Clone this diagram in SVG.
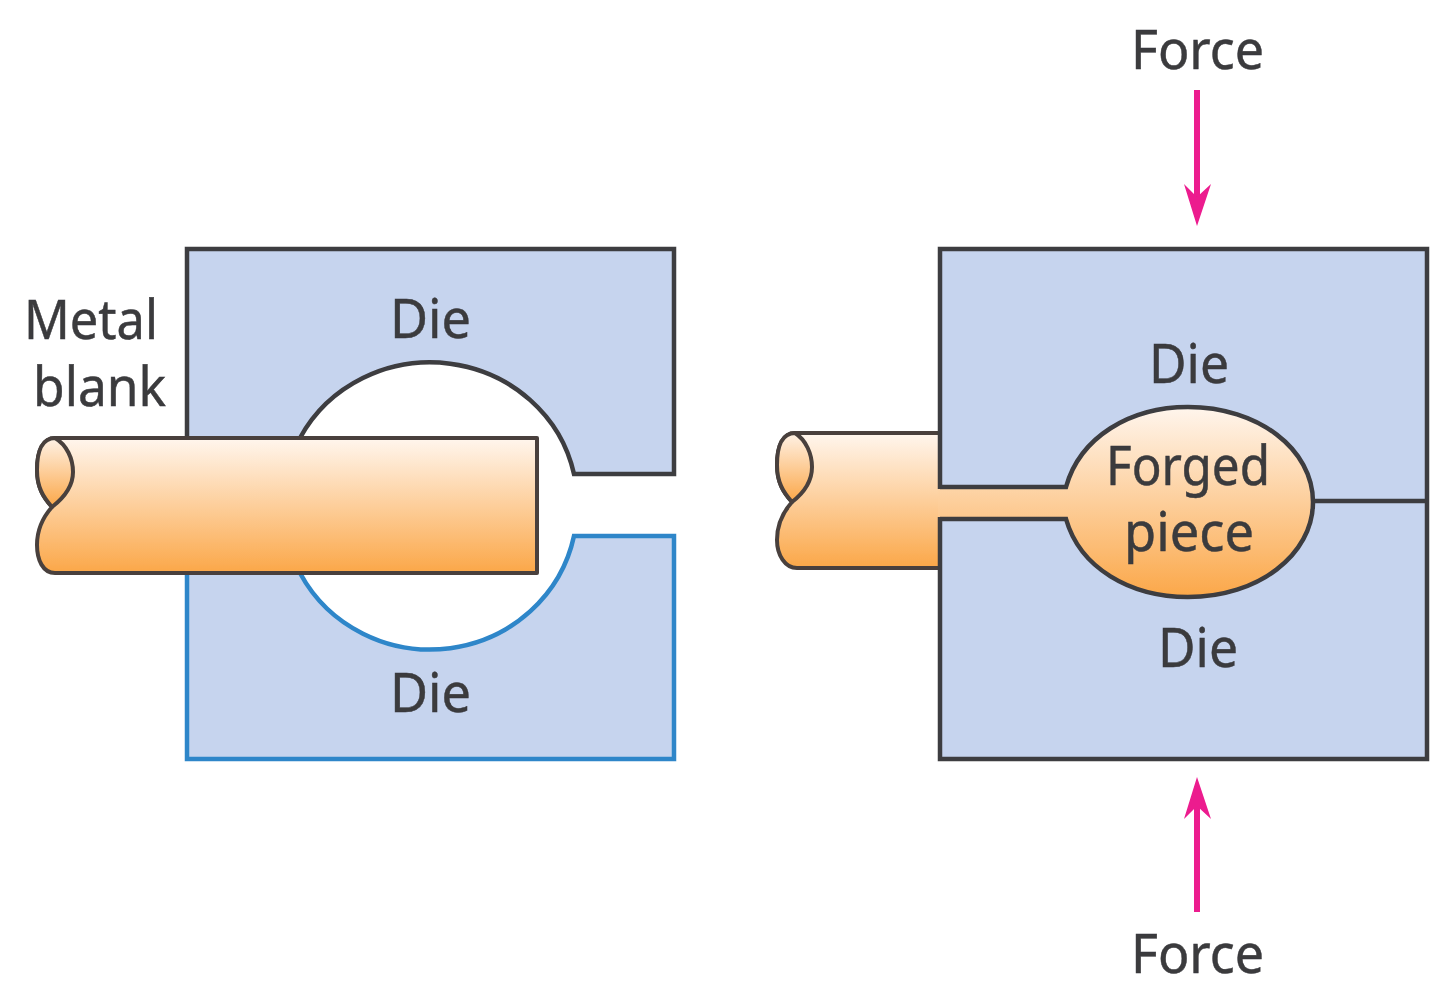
<svg xmlns="http://www.w3.org/2000/svg" width="1440" height="987" viewBox="0 0 1440 987">
<style>
g{filter:url(#soft)}
text{font-family:"Noto Sans","Open Sans",sans-serif;font-size:55px;fill:#3a3a3d;stroke:#3a3a3d;stroke-width:.5;lengthAdjust:spacingAndGlyphs}
.die{fill:#c6d4ee;stroke:none}
.dk{fill:none;stroke:#3c3c40;stroke-width:4.5;stroke-linejoin:miter}
.bl{fill:none;stroke:#2d86c9;stroke-width:4.5;stroke-linejoin:miter}
.met{stroke:#48413d;stroke-width:4;stroke-linejoin:round}
.arr{fill:none;stroke:#ec1a8e;stroke-width:6}
.head{fill:#ec1a8e;stroke:none}
</style>
<defs>
<filter id="soft" x="-5%" y="-5%" width="110%" height="110%"><feGaussianBlur stdDeviation="0.7"/></filter>
<linearGradient id="g1" gradientUnits="userSpaceOnUse" x1="0" y1="438" x2="0" y2="573"><stop offset="0" stop-color="#fff6ee"/><stop offset="1" stop-color="#fba748"/></linearGradient>
<linearGradient id="g1l" gradientUnits="userSpaceOnUse" x1="0" y1="438" x2="0" y2="507"><stop offset="0" stop-color="#fff2e6"/><stop offset="1" stop-color="#fba748"/></linearGradient>
<linearGradient id="g2" gradientUnits="userSpaceOnUse" x1="0" y1="433" x2="0" y2="568"><stop offset="0" stop-color="#fff6ee"/><stop offset="1" stop-color="#fba748"/></linearGradient>
<linearGradient id="g2l" gradientUnits="userSpaceOnUse" x1="0" y1="433" x2="0" y2="502"><stop offset="0" stop-color="#fff2e6"/><stop offset="1" stop-color="#fba748"/></linearGradient>
<linearGradient id="g3" gradientUnits="userSpaceOnUse" x1="0" y1="406" x2="0" y2="598"><stop offset="0" stop-color="#fff6ee"/><stop offset="1" stop-color="#fba748"/></linearGradient>
</defs>

<g id="left-upper-die">
<path class="die" d="M187,440 V249 H674 V474 H574 A147,141 0 0 0 299,440 Z"/>
<path class="dk" d="M187,438 V249 H674 V474 H574 A147,141 0 0 0 300,438"/>
<text x="390" y="338" textLength="81" lengthAdjust="spacingAndGlyphs">Die</text>
</g>
<g id="left-lower-die">
<path class="die" d="M187,571 V759 H674 V536 H574 A147,143 0 0 1 299,571 Z"/>
<path class="bl" d="M187,573 V759 H674 V536 H574 A147,143 0 0 1 300,573"/>
<text x="390" y="712" textLength="81" lengthAdjust="spacingAndGlyphs">Die</text>
</g>
<g id="metal-blank">
<path class="met" fill="url(#g1)" d="M55,438 H537 V573 H55 C43,573 37,560 37,545 C37,527 44,516 52,507 C43,497 37,487 37,470 C37,450 43,438 55,438 Z"/>
<path class="met" fill="url(#g1l)" d="M55,438 C43,438 37,450 37,470 C37,487 43,497 52,507 C65,497 73,486 73,472 C73,459 67,445 55,438 Z"/>
<text x="24" y="339" textLength="134" lengthAdjust="spacingAndGlyphs">Metal</text>
<text x="33" y="406" textLength="133" lengthAdjust="spacingAndGlyphs">blank</text>
</g>

<g id="right-die">
<rect class="die" x="940" y="249" width="487" height="510"/>
<path class="dk" d="M1310,501 H1427"/>
<text x="1149" y="383" textLength="80" lengthAdjust="spacingAndGlyphs">Die</text>
<text x="1158" y="667" textLength="80" lengthAdjust="spacingAndGlyphs">Die</text>
</g>
<g id="forged-blank">
<path fill="url(#g2)" d="M940,433 H800 C785,433 777,445 777,465 C777,482 783,492 792,502 C784,511 777,522 777,540 C777,555 785,568 797,568 H940 Z"/>
<path class="met" fill="none" d="M940,433 H795 C783,433 777,445 777,465 C777,482 783,492 792,502 C784,511 777,522 777,540 C777,555 785,568 797,568 H940"/>
<path class="met" fill="url(#g2l)" d="M795,433 C783,433 777,445 777,465 C777,482 783,492 792,502 C805,492 812,481 812,467 C812,454 806,440 795,433 Z"/>
<path fill="url(#g3)" d="M938,488 H1066 C1080,437 1130,407 1188,407 C1258,407 1313,449 1313,502 C1313,555 1258,597 1188,597 C1130,597 1080,568 1066,518 H938 Z"/>
<path class="dk" d="M940,487 H1066 C1080,437 1130,407 1188,407 C1258,407 1313,449 1313,502 C1313,555 1258,597 1188,597 C1130,597 1080,568 1066,519 H940"/>
<path class="dk" d="M940,489 V249 H1427 V759 H940 V517"/>
<text x="1106" y="485" textLength="164" lengthAdjust="spacingAndGlyphs">Forged</text>
<text x="1124" y="551" textLength="130" lengthAdjust="spacingAndGlyphs">piece</text>
</g>

<g id="connectors">
<path class="arr" d="M1197,90 V205"/>
<path class="head" d="M1197,226 L1184,184 L1197,197 L1211,184 Z"/>
<path class="arr" d="M1197,912 V798"/>
<path class="head" d="M1197,777 L1184,819 L1197,806 L1211,819 Z"/>
</g>
<g id="force-labels">
<text x="1131" y="69" textLength="133" lengthAdjust="spacingAndGlyphs">Force</text>
<text x="1131" y="973" textLength="133" lengthAdjust="spacingAndGlyphs">Force</text>
</g>
</svg>
